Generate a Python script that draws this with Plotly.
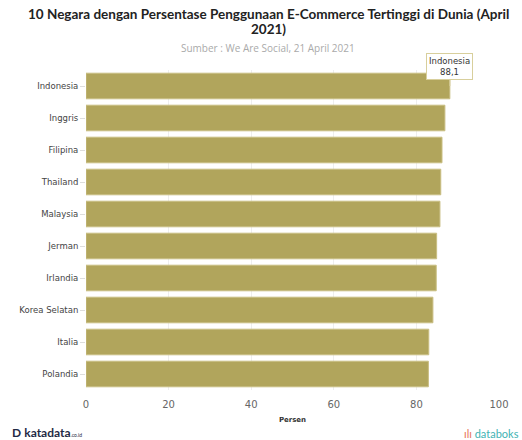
import plotly.graph_objects as go

countries = ["Indonesia", "Inggris", "Filipina", "Thailand", "Malaysia",
             "Jerman", "Irlandia", "Korea Selatan", "Italia", "Polandia"]
values = [88.1, 86.9, 86.2, 85.9, 85.7, 84.9, 84.8, 84.0, 83.0, 82.9]
x_ticks = [0, 20, 40, 60, 80, 100]

bar_color = "#b1a55c"

W, H = 522, 440
ML, MR, MT, MB = 86, 23, 70, 50
PW, PH = W - ML - MR, H - MT - MB


def px(xp):
    return (xp - ML) / PW


def py(yp):
    return 1 - (yp - MT) / PH


fig = go.Figure()
fig.add_trace(go.Bar(
    y=countries, x=values, orientation="h",
    marker=dict(color=bar_color, line=dict(color="#c9be82", width=1)),
    hoverinfo="skip",
))

fig.update_layout(
    width=W, height=H,
    margin=dict(l=ML, r=MR, t=MT, b=MB),
    paper_bgcolor="white", plot_bgcolor="white",
    bargap=0.2,
    showlegend=False,
    xaxis=dict(
        range=[0, 100], tickvals=x_ticks, showgrid=True, gridcolor="#eeeeee",
        zeroline=False, showline=False, ticklabelstandoff=7,
        tickfont=dict(family="DejaVu Sans", size=10, color="#666666"),
        title=dict(text="<b>Persen</b>", font=dict(family="DejaVu Sans", size=7, color="#333333"),
                   standoff=8),
    ),
    yaxis=dict(
        autorange="reversed", showgrid=False, showline=False,
        ticks="outside", ticklen=5, tickcolor="#dddddd",
        tickfont=dict(family="DejaVu Sans", size=8.5, color="#444444"),
    ),
)

fig.add_annotation(
    text="<b>10 Negara dengan Persentase Penggunaan E-Commerce Tertinggi di Dunia (April</b>",
    xref="paper", yref="paper", x=px(268), y=py(14),
    xanchor="center", yanchor="middle", showarrow=False,
    font=dict(family="Lato", size=13.5, color="#222222"),
)
fig.add_annotation(
    text="<b>2021)</b>",
    xref="paper", yref="paper", x=px(268), y=py(29),
    xanchor="center", yanchor="middle", showarrow=False,
    font=dict(family="Lato", size=13.5, color="#222222"),
)

fig.add_annotation(
    text="Sumber : We Are Social, 21 April 2021",
    xref="paper", yref="paper", x=px(268), y=py(48),
    xanchor="center", yanchor="middle", showarrow=False,
    font=dict(family="Open Sans", size=10, color="#aaaaaa"),
)

fig.add_annotation(
    text="Indonesia<br>88,1", x=values[0], y=countries[0],
    xref="x", yref="y", showarrow=True, arrowhead=0, arrowwidth=1,
    arrowcolor="#d8cf9c", ax=0, ay=-20,
    bgcolor="white", bordercolor="#d8cf9c", borderwidth=1, borderpad=2,
    font=dict(family="DejaVu Sans", size=8.5, color="#333333"),
)

fig.add_annotation(
    text="<b>D</b> <b>katadata</b><span style='font-size:5px'>.co.id</span>",
    xref="paper", yref="paper", x=px(10), y=py(432),
    xanchor="left", yanchor="middle", showarrow=False,
    font=dict(family="Lato", size=12, color="#1f2a44"),
)
fig.add_annotation(
    text="<span style='color:#e8735a'>ılı</span> databoks",
    xref="paper", yref="paper", x=px(521), y=py(433),
    xanchor="right", yanchor="middle", showarrow=False,
    font=dict(family="Lato", size=11, color="#3fb3b3"),
)

fig.write_html(
    "out.html",
    config={"displayModeBar": False},
    post_script="document.body.style.margin='0';document.body.style.overflow='hidden';",
)
